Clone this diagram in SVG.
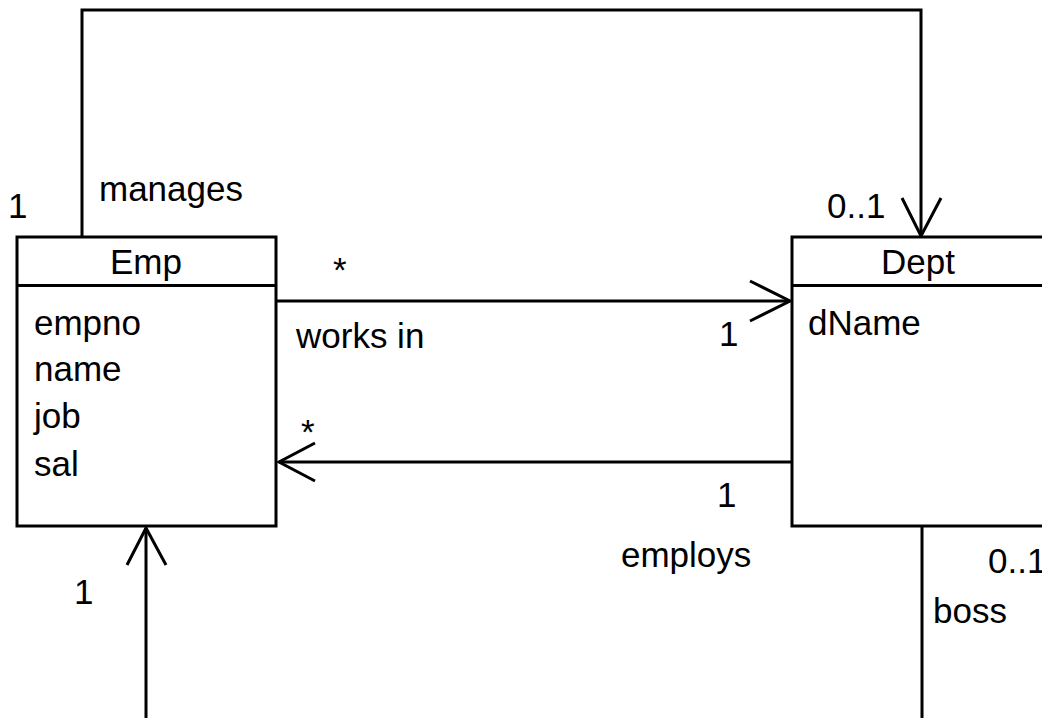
<svg xmlns="http://www.w3.org/2000/svg" width="1042" height="718" viewBox="0 0 1042 718">
<style>
.box{fill:#fff;stroke:#000;stroke-width:3}
.ln{fill:none;stroke:#000;stroke-width:3}
text{font-family:"Liberation Sans",Arial,sans-serif;font-size:35px;fill:#000}
.c{text-anchor:middle}
</style>
<rect width="1042" height="718" fill="#fff"/>
<g id="connectors">
<path class="ln" d="M82,237 V10 H921 V236"/>
<polyline class="ln" points="902,198 921,236 941,198"/>
<path class="ln" d="M277,301 H790"/>
<polyline class="ln" points="750,281 790,301 750,321"/>
<path class="ln" d="M792,462 H279"/>
<polyline class="ln" points="315,443 279,462 315,481"/>
<path class="ln" d="M146,718 V528"/>
<polyline class="ln" points="127,565 146,528 166,565"/>
<path class="ln" d="M922,527 V718"/>
</g>
<g id="Emp">
<rect class="box" x="17" y="237" width="259" height="289"/>
<path class="ln" d="M17,285.5 H276"/>
<text class="c" x="146" y="274">Emp</text>
<text x="34" y="335">empno</text>
<text x="34" y="381">name</text>
<text x="34" y="428">job</text>
<text x="34" y="476">sal</text>
</g>
<g id="Dept">
<rect class="box" x="792" y="237" width="259" height="289"/>
<path class="ln" d="M792,285.5 H1051"/>
<text class="c" x="918" y="274">Dept</text>
<text x="808" y="335">dName</text>
</g>
<g id="labels">
<text x="8" y="218">1</text>
<text x="99" y="201">manages</text>
<text x="827" y="218">0..1</text>
<text x="333" y="282">*</text>
<text x="296" y="348">works in</text>
<text x="719" y="346">1</text>
<text x="301" y="444">*</text>
<text x="717" y="507">1</text>
<text x="621" y="567">employs</text>
<text x="988" y="573">0..1</text>
<text x="74" y="604">1</text>
<text x="933" y="623">boss</text>
</g>
</svg>
